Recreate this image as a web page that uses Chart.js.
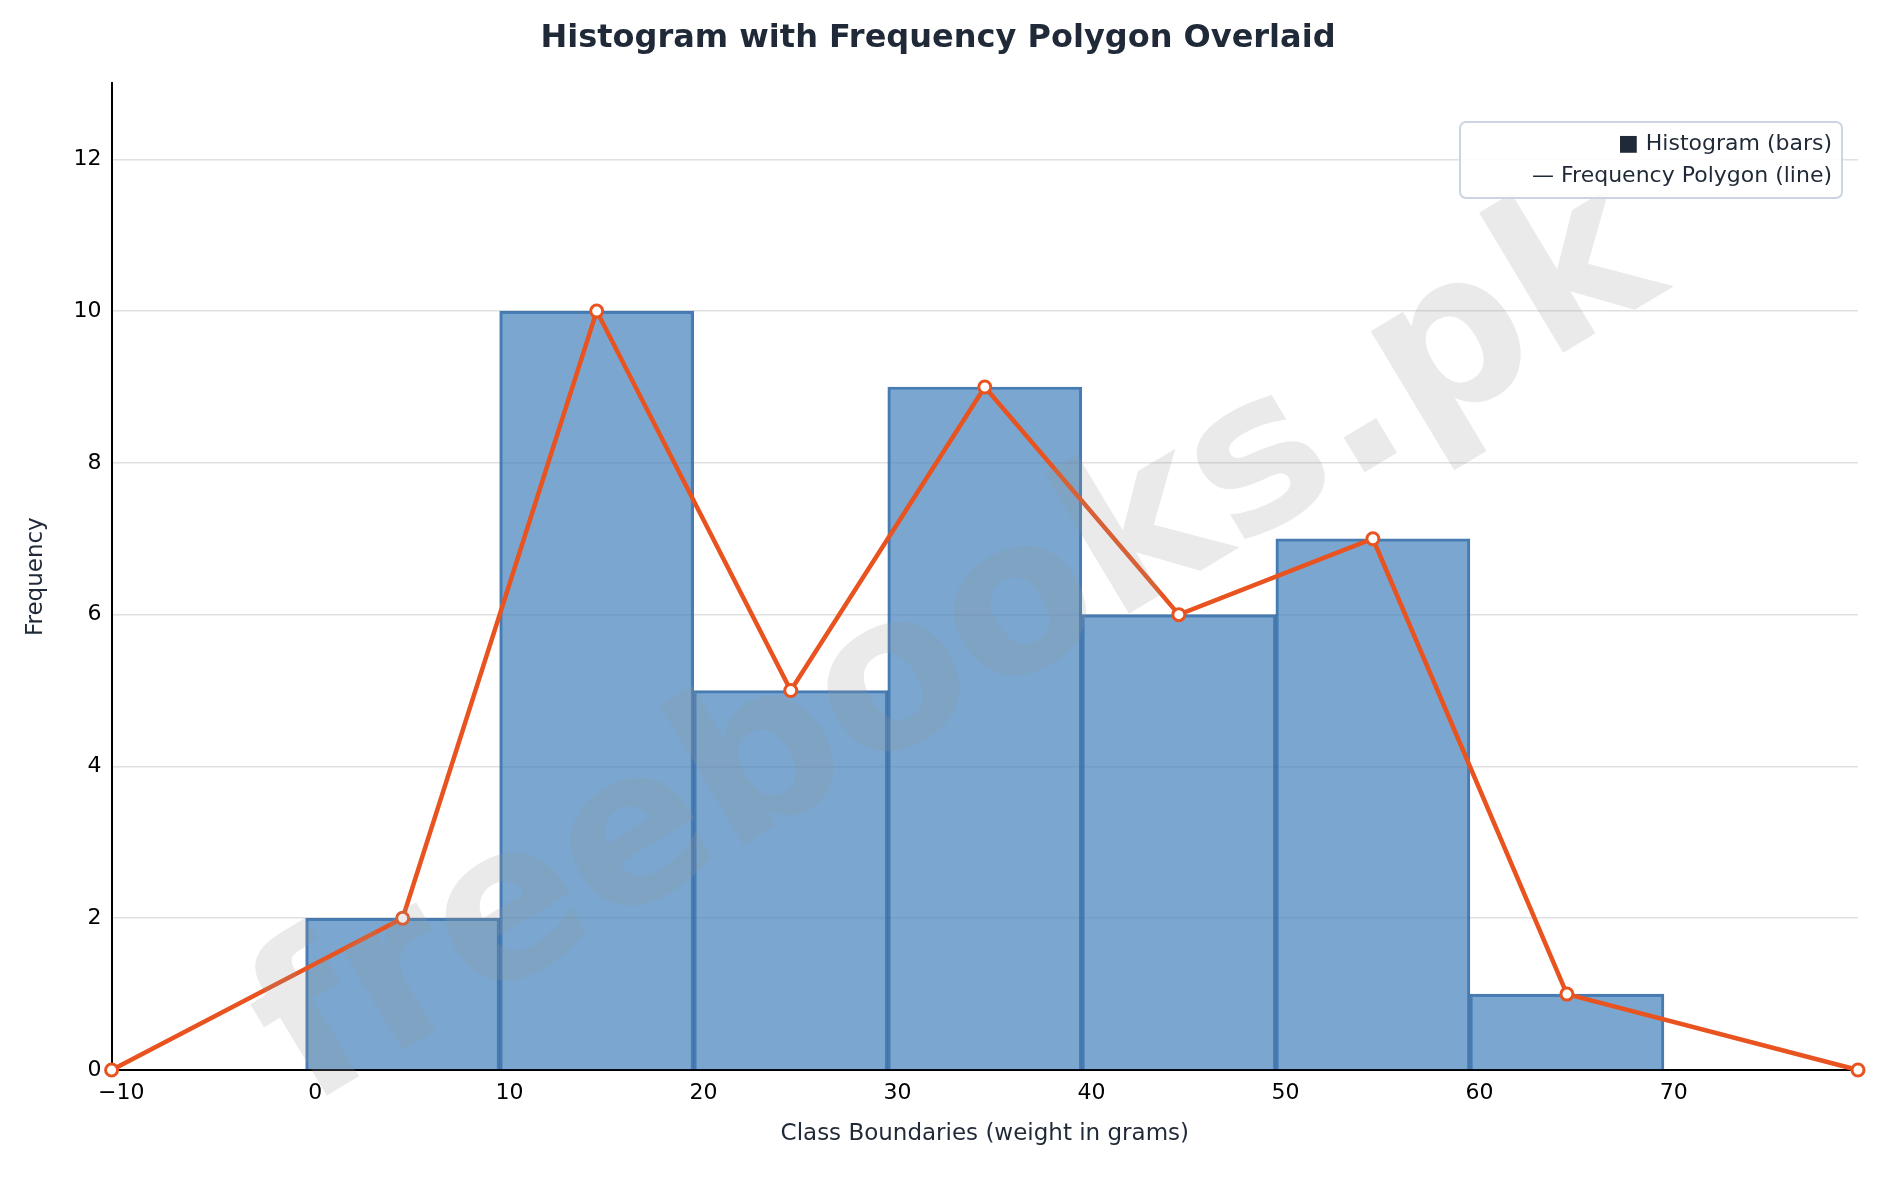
<!DOCTYPE html>
<html><head><meta charset="utf-8">
<script src="https://cdn.jsdelivr.net/npm/chart.js@4/dist/chart.umd.min.js"></script>
<style>html,body{margin:0;padding:0;background:#fff}#w{width:1878px;height:1177px}</style>
</head><body><div id="w"><canvas id="c"></canvas></div>
<script>
const classMidpoints=[4.5,14.5,24.5,34.5,44.5,54.5,64.5];
const frequencies=[2,10,5,9,6,7,1];
const polygonX=[-10.5,4.5,14.5,24.5,34.5,44.5,54.5,64.5,79.5];
const polygonY=[0,2,10,5,9,6,7,1,0];
const xTicks=[-10,0,10,20,30,40,50,60,70];
const yTicks=[0,2,4,6,8,10,12];
const F="DejaVu Sans";
const overlay={id:'ov',afterDatasetsDraw(ch){
  const c=ch.ctx;
  c.save();c.translate(960,650);c.rotate(-Math.PI*31/180);
  c.font="bold 215px "+F;c.fillStyle="rgba(150,150,150,0.2)";c.textAlign="center";c.textBaseline="middle";
  c.fillText("freebooks.pk",0,0);c.restore();
  c.save();
  const bx=1460,by=122,bw=382,bh=76;
  c.fillStyle="rgba(255,255,255,0.85)";c.strokeStyle="#cbd5e1";c.lineWidth=2;
  c.beginPath();c.roundRect(bx,by,bw,bh,6);c.fill();c.stroke();
  c.font="22px "+F;c.fillStyle="#1f2937";c.textAlign="right";c.textBaseline="middle";
  c.fillText("■ Histogram (bars)",bx+bw-10,by+22);
  c.fillText("— Frequency Polygon (line)",bx+bw-10,by+54);
  c.restore();
}};
new Chart(document.getElementById('c'),{
  type:'bar',
  data:{datasets:[
    {type:'line',data:polygonX.map((x,i)=>({x,y:polygonY[i]})),borderColor:'#e8531f',borderWidth:4.5,
     pointBackgroundColor:'#fff',pointBorderColor:'#e8531f',pointBorderWidth:3,pointRadius:6,tension:0,order:0,clip:false},
    {type:'bar',data:classMidpoints.map((x,i)=>({x,y:frequencies[i]})),backgroundColor:'rgba(71,131,189,0.72)',
     borderColor:'rgba(40,100,165,0.85)',borderWidth:2.5,barPercentage:1,categoryPercentage:1,order:1}
  ]},
  options:{responsive:true,maintainAspectRatio:false,animation:false,
    layout:{padding:{left:18,right:20,top:0,bottom:25}},
    plugins:{legend:{display:false},tooltip:{enabled:false},
      title:{display:true,text:'Histogram with Frequency Polygon Overlaid',font:{family:F,size:32,weight:'bold'},color:'#1f2937',padding:{top:19,bottom:26}}},
    scales:{
      x:{type:'linear',min:-10.5,max:79.5,offset:false,
        afterBuildTicks(s){s.ticks=xTicks.map(v=>({value:v}));},
        grid:{display:false,drawTicks:true,tickLength:8,tickColor:'#000'},border:{color:'#000',width:2},
        ticks:{font:{family:F,size:22},color:'#000',padding:2,callback:v=>String(v).replace('-','\u2212')},
        title:{display:true,text:'Class Boundaries (weight in grams)',font:{family:F,size:23},color:'#1f2937',padding:{top:12}}},
      y:{min:0,max:13,afterBuildTicks(s){s.ticks=yTicks.map(v=>({value:v}));},
        ticks:{font:{family:F,size:22},color:'#000',padding:10},
        grid:{color:'#e0e0e0',lineWidth:1.5,drawTicks:false},border:{color:'#000',width:2},
        title:{display:true,text:'Frequency',font:{family:F,size:23},color:'#1f2937',padding:{bottom:14}}}
    }},
  plugins:[overlay]
});
</script></body></html>
